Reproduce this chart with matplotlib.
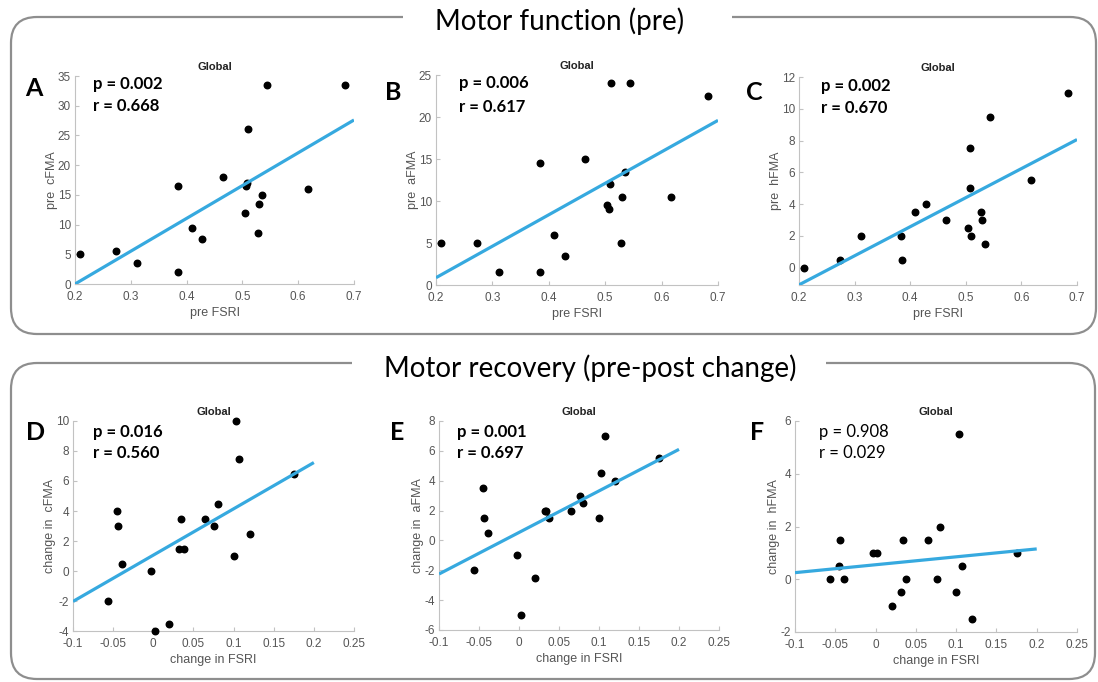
"""Six-panel FSRI vs Fugl-Meyer scatter figure (pre values and pre-post change)."""

import matplotlib

matplotlib.use("Agg")
import matplotlib.pyplot as plt
from matplotlib.patches import FancyBboxPatch, Rectangle

W, H = 1098, 682

# pre-treatment values (one entry per subject)
pre_fsri = [0.209, 0.273, 0.312, 0.384, 0.385, 0.409, 0.428, 0.465, 0.504,
            0.507, 0.508, 0.510, 0.528, 0.530, 0.535, 0.544, 0.617, 0.683]
pre_cfma = [5, 5.5, 3.5, 16.5, 2, 9.5, 7.5, 18, 12, 16.5, 17, 26, 8.5, 13.5, 15, 33.5, 16, 33.5]
pre_afma = [5, 5, 1.5, 14.5, 1.5, 6, 3.5, 15, 9.5, 9, 12, 24, 5, 10.5, 13.5, 24, 10.5, 22.5]
pre_hfma = [0, 0.5, 2, 2, 0.5, 3.5, 4, 3, 2.5, 7.5, 5, 2, 3.5, 3, 1.5, 9.5, 5.5, 11]

# pre-post change
chg_fsri = [-0.056, -0.045, -0.044, -0.039, -0.003, 0.002, 0.020, 0.034, 0.032,
            0.038, 0.065, 0.076, 0.080, 0.100, 0.103, 0.107, 0.120, 0.175]
chg_cfma = [-2, 4, 3, 0.5, 0, -4, -3.5, 3.5, 1.5, 1.5, 3.5, 3, 4.5, 1, 10, 7.5, 2.5, 6.5]
chg_afma = [-2, 3.5, 1.5, 0.5, -1, -5, -2.5, 2, 2, 1.5, 2, 3, 2.5, 1.5, 4.5, 7, 4, 5.5]
chg_hfma = [0, 0.5, 1.5, 0, 1, 1, -1, 1.5, -0.5, 0, 1.5, 0, 2, -0.5, 5.5, 0.5, -1.5, 1]

# regression lines, end points
fit_pre_x = [0.2, 0.7]
fit_pre_c = [0.0, 27.6]
fit_pre_a = [0.87, 19.6]
fit_pre_h = [-1.09, 8.06]
fit_chg_x = [-0.1, 0.2]
fit_chg_c = [-2.03, 7.23]
fit_chg_a = [-2.25, 6.1]
fit_chg_h = [0.25, 1.15]

pre_xticks = [0.2, 0.3, 0.4, 0.5, 0.6, 0.7]
pre_xlabels = ["0.2", "0.3", "0.4", "0.5", "0.6", "0.7"]
chg_xticks = [-0.1, -0.05, 0, 0.05, 0.1, 0.15, 0.2, 0.25]
chg_xlabels = ["-0.1", "-0.05", "0", "0.05", "0.1", "0.15", "0.2", "0.25"]

yticks_c = [0, 5, 10, 15, 20, 25, 30, 35]
yticks_a = [0, 5, 10, 15, 20, 25]
yticks_h = [0, 2, 4, 6, 8, 10, 12]
yticks_dc = [-4, -2, 0, 2, 4, 6, 8, 10]
yticks_da = [-6, -4, -2, 0, 2, 4, 6, 8]
yticks_dh = [-2, 0, 2, 4, 6]

stats_p = ["p = 0.002", "p = 0.006", "p = 0.002", "p = 0.016", "p = 0.001", "p = 0.908"]
stats_r = ["r = 0.668", "r = 0.617", "r = 0.670", "r = 0.560", "r = 0.697", "r = 0.029"]
panel_letters = ["A", "B", "C", "D", "E", "F"]

LINE_BLUE = "#36a9df"
AXIS_GREY = "#c2c2c2"
LABEL_GREY = "#555555"
BOX_GREY = "#8e8e8e"


def _rect(l, t, r, b):
    return [l / W, 1 - b / H, (r - l) / W, (b - t) / H]


def _style_axes(ax, xticks, xlabels, ylim, yticks, xlabel, ylabel):
    for side in ("top", "right"):
        ax.spines[side].set_visible(False)
    for side in ("left", "bottom"):
        ax.spines[side].set_color(AXIS_GREY)
        ax.spines[side].set_linewidth(0.8)
    ax.set_facecolor("none")
    ax.set_xlim(xticks[0], xticks[-1])
    ax.set_xticks(xticks)
    ax.set_xticklabels(xlabels)
    ax.set_ylim(*ylim)
    ax.set_yticks(yticks)
    ax.set_yticklabels([str(v) for v in yticks])
    ax.tick_params(direction="in", length=3, width=0.8, color=AXIS_GREY,
                   labelcolor=LABEL_GREY, labelsize=8.5)
    ax.tick_params(axis="x", pad=5)
    ax.tick_params(axis="y", pad=3)
    ax.set_xlabel(xlabel, fontsize=9, color=LABEL_GREY, labelpad=3)
    ax.set_ylabel(ylabel, fontsize=9, color=LABEL_GREY, labelpad=0)
    ax.set_title("Global", fontsize=8, fontweight="bold", color="#222222", pad=4)


def main():
    plt.rcParams.update({
        "font.family": ["Liberation Sans", "DejaVu Sans"],
        "axes.unicode_minus": False,
    })
    fig = plt.figure(figsize=(W / 100, H / 100), dpi=100)

    # background layer in pixel coordinates for frames and annotations
    bg = fig.add_axes([0, 0, 1, 1])
    bg.set_xlim(0, W)
    bg.set_ylim(H, 0)
    bg.axis("off")

    for (x0, y0, x1, y1) in [(11, 17, 1096, 334), (11, 363, 1095, 679)]:
        bg.add_patch(FancyBboxPatch((x0, y0), x1 - x0, y1 - y0,
                                    boxstyle="round,pad=0,rounding_size=26",
                                    fill=False, ec=BOX_GREY, lw=1.6))
    bg.add_patch(Rectangle((403, 8), 329, 18, fc="white", ec="none", zorder=3))
    bg.add_patch(Rectangle((352, 354), 474, 18, fc="white", ec="none", zorder=3))
    bg.text(560, 21, "Motor function (pre)", fontsize=20, family="Lato",
            ha="center", va="center", zorder=4)
    bg.text(590, 368, "Motor recovery (pre-post change)", fontsize=20, family="Lato",
            ha="center", va="center", zorder=4)

    panels = [
        (_rect(75, 76, 354, 284), pre_fsri, pre_cfma, fit_pre_x, fit_pre_c,
         pre_xticks, pre_xlabels, (0, 35), yticks_c, "pre FSRI", "pre  cFMA"),
        (_rect(436, 75, 718, 285), pre_fsri, pre_afma, fit_pre_x, fit_pre_a,
         pre_xticks, pre_xlabels, (0, 25), yticks_a, "pre FSRI", "pre  aFMA"),
        (_rect(799, 77, 1077, 285), pre_fsri, pre_hfma, fit_pre_x, fit_pre_h,
         pre_xticks, pre_xlabels, (-1.1, 12), yticks_h, "pre FSRI", "pre  hFMA"),
        (_rect(73, 421, 354, 631), chg_fsri, chg_cfma, fit_chg_x, fit_chg_c,
         chg_xticks, chg_xlabels, (-4, 10), yticks_dc, "change in FSRI", "change in  cFMA"),
        (_rect(439, 421, 719, 630), chg_fsri, chg_afma, fit_chg_x, fit_chg_a,
         chg_xticks, chg_xlabels, (-6, 8), yticks_da, "change in FSRI", "change in  aFMA"),
        (_rect(795, 421, 1077, 632), chg_fsri, chg_hfma, fit_chg_x, fit_chg_h,
         chg_xticks, chg_xlabels, (-2, 6), yticks_dh, "change in FSRI", "change in  hFMA"),
    ]

    for rect, xs, ys, fx, fy, xt, xl, ylim, yt, xlab, ylab in panels:
        ax = fig.add_axes(rect)
        ax.scatter(xs, ys, s=22, color="black", zorder=3, clip_on=False)
        ax.plot(fx, fy, color=LINE_BLUE, lw=2.3, zorder=4, solid_capstyle="butt")
        _style_axes(ax, xt, xl, ylim, yt, xlab, ylab)

    # panel letters and statistics
    letter_pos = [(25, 88), (385, 93), (746, 93), (26, 433), (390, 433), (750, 433)]
    stat_pos = [(93, 84, 106), (459, 83, 107), (821, 86, 108),
                (93, 432, 453), (457, 432, 453), (819, 432, 453)]
    for i, letter in enumerate(panel_letters):
        lx, ly = letter_pos[i]
        bg.text(lx, ly, letter, fontsize=18, family="Lato", fontweight="bold",
                ha="left", va="center")
        sx, py, ry = stat_pos[i]
        weight = "normal" if i == 5 else "bold"
        bg.text(sx, py, stats_p[i], fontsize=12, family="Lato", fontweight=weight,
                ha="left", va="center")
        bg.text(sx, ry, stats_r[i], fontsize=12, family="Lato", fontweight=weight,
                ha="left", va="center")

    fig.savefig("out.png", dpi=100, facecolor="white")


if __name__ == "__main__":
    main()
